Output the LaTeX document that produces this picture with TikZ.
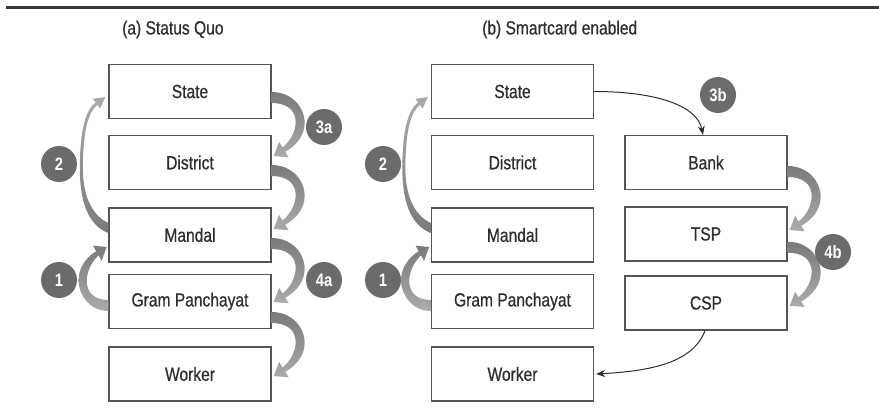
\documentclass[tikz,border=0pt]{standalone}
\usepackage{fontspec}
\setmainfont[FakeStretch=0.82]{Liberation Sans}
\newfontfamily\medfont[FakeStretch=0.82, FakeBold=0.7]{Liberation Sans}
\usetikzlibrary{arrows.meta}
\definecolor{rulegray}{HTML}{3A3A3A}
\definecolor{boxline}{HTML}{555555}
\definecolor{txtgray}{HTML}{2E2E2E}
\definecolor{circgray}{HTML}{6B6B6B}
\definecolor{arrdark}{HTML}{7A7A7A}
\definecolor{arrlight}{HTML}{ABABAB}
\tikzset{
  stagebox/.style={draw=boxline, line width=1.3pt, minimum width=162pt, minimum height=54pt, inner sep=0pt, text=txtgray, font=\medfont\fontsize{19}{22}\selectfont},
  numcirc/.style={circle, fill=circgray, minimum size=36pt, inner sep=0pt, text=white, font=\fontsize{18}{20}\selectfont\bfseries},
  titletext/.style={text=txtgray, font=\medfont\fontsize{19}{22}\selectfont, anchor=west, inner sep=0pt},
  conn/.style={draw=txtgray, line width=1pt, -{Stealth[length=9pt,width=7pt]}},
  rarrow/.pic={
    \shade[top color=arrdark, bottom color=arrlight]
      (0,0) .. controls (20,0) and (33,15) .. (33,31)
      .. controls (33,44) and (24,54) .. (13.5,59.8)
      -- (17,65.3) -- (2,64) -- (7.5,50) -- (10.9,55.6)
      .. controls (20,48) and (24,38) .. (24,30)
      .. controls (24,18) and (15,11) .. (0,11) -- cycle;
  },
  longarrow/.pic={
    \shade[bottom color=arrdark, top color=arrlight]
      (0,0) .. controls (-21,-8) and (-29,-33) .. (-28.5,-68)
      .. controls (-28,-103) and (-23,-123) .. (-12.7,-130.6)
      -- (-15.4,-134.2) -- (-3,-136) -- (-8.2,-124.6) -- (-10.9,-128.2)
      .. controls (-20,-121) and (-25,-103) .. (-25.5,-68)
      .. controls (-26,-38) and (-17,-18) .. (0,-10) -- cycle;
  }
}
\begin{document}
\begin{tikzpicture}[x=1pt, y=-1pt]
\useasboundingbox (0,0) rectangle (879,417);
% top rule
\draw[rulegray, line width=3pt] (6,7.5) -- (879,7.5);
% titles
\node[titletext] (ta) at (122,29.5) {(a) Status Quo};
\node[titletext] (tb) at (482,29.5) {(b) Smartcard enabled};
% left column
\node[stagebox] (lstate) at (190,91.5) {State};
\node[stagebox] (ldist) at (190,162.5) {District};
\node[stagebox] (lmandal) at (190,235) {Mandal};
\node[stagebox] (lgp) at (190,301.5) {Gram Panchayat};
\node[stagebox] (lworker) at (190,374) {Worker};
% middle column
\node[stagebox] (mstate) at (512.5,91.5) {State};
\node[stagebox] (mdist) at (512.5,162.5) {District};
\node[stagebox] (mmandal) at (512.5,235) {Mandal};
\node[stagebox] (mgp) at (512.5,301.5) {Gram Panchayat};
\node[stagebox] (mworker) at (512.5,374) {Worker};
% right column
\node[stagebox] (bank) at (706,162.5) {Bank};
\node[stagebox] (tsp) at (706,234) {TSP};
\node[stagebox] (csp) at (706,303) {CSP};
% gray flow arrows, left panel
\pic at ([yshift=2pt]lmandal.west) {longarrow};
\pic[xscale=-0.9, yscale=-1] at ([yshift=-9.5pt]lgp.west) {rarrow};
\pic at ([yshift=-0.5pt]lstate.east) {rarrow};
\pic at ([yshift=-2.5pt]ldist.east) {rarrow};
\pic at ([yshift=-3pt]lmandal.east) {rarrow};
\pic at ([yshift=-10.5pt]lgp.east) {rarrow};
% gray flow arrows, right panel
\pic at ([yshift=2pt]mmandal.west) {longarrow};
\pic[xscale=-0.9, yscale=-1] at ([yshift=-9.5pt]mgp.west) {rarrow};
\pic at ([yshift=-3.5pt]bank.east) {rarrow};
\pic at ([yshift=-7.7pt]tsp.east) {rarrow};
% black connectors
\draw[conn] (mstate.east) .. controls +(60,0) and +(-6,-30) .. ([xshift=-3pt]bank.north);
\draw[conn] ([xshift=-1pt]csp.south) .. controls +(-12,32) and +(55,-3) .. ([xshift=2pt]mworker.east);
% number circles
\node[numcirc] (c2a) at (59,164) {2};
\node[numcirc] (c1a) at (59,280) {1};
\node[numcirc] (c3a) at (324,127) {3a};
\node[numcirc] (c4a) at (324,280) {4a};
\node[numcirc] (c2b) at (383,164) {2};
\node[numcirc] (c1b) at (383,280) {1};
\node[numcirc] (c3b) at (718,95) {3b};
\node[numcirc] (c4b) at (833,252) {4b};
\end{tikzpicture}
\end{document}
